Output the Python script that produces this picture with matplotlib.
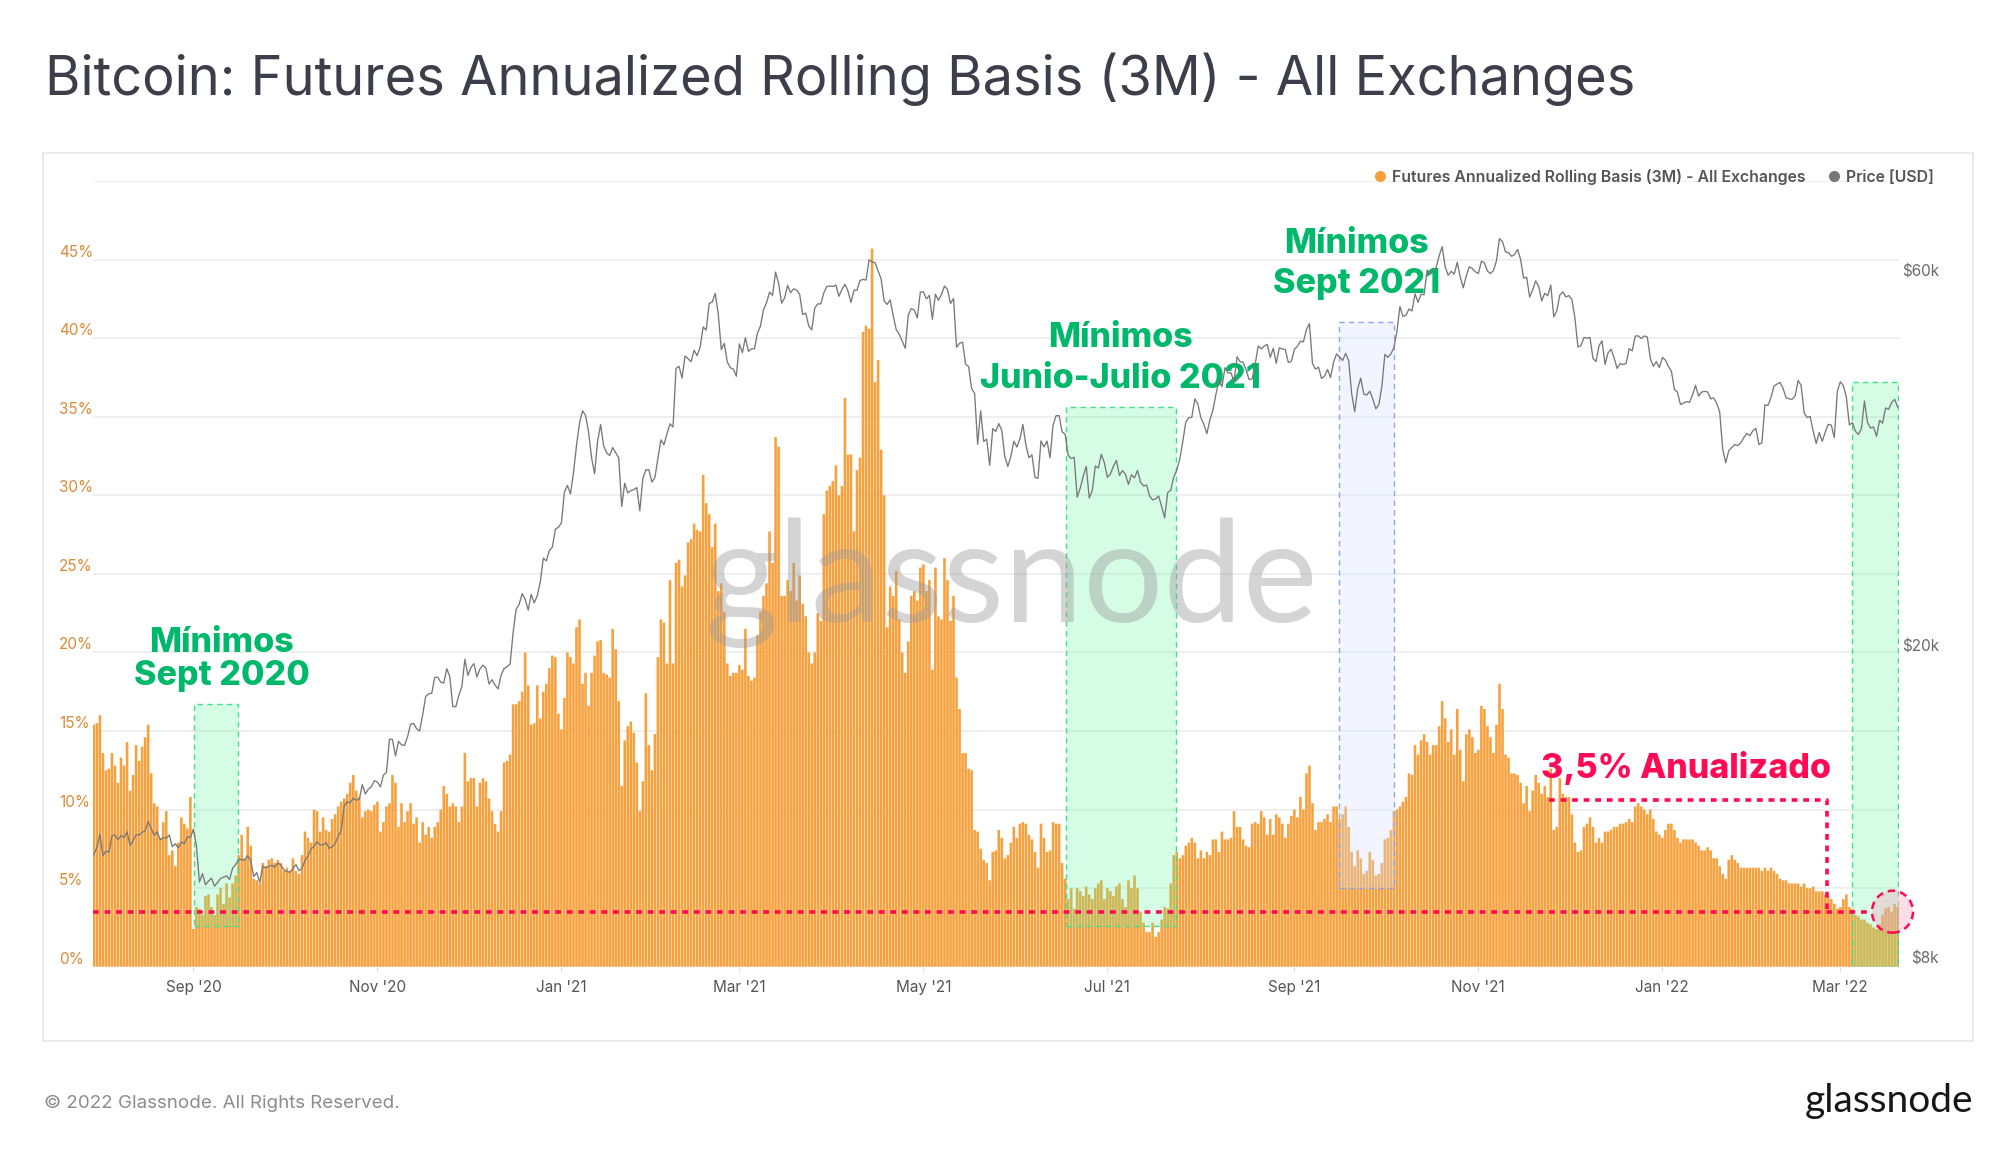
import matplotlib
matplotlib.use("Agg")
import matplotlib.pyplot as plt
import matplotlib.dates as mdates
from matplotlib.patches import Rectangle, Ellipse
from matplotlib.lines import Line2D
from matplotlib.ticker import NullLocator
import pandas as pd

plt.rcParams["font.family"] = ["Inter", "DejaVu Sans"]

# --- futures annualized rolling basis (3M), % per day ---
basis_2020_07 = [15.4, 15.5]
basis_2020_08 = [16.0, 13.6, 12.5, 12.6, 13.6, 12.8, 11.7, 13.3, 12.8, 14.3, 11.2, 12.2, 14.1, 13.1, 14.0, 14.6,
                 15.4, 12.3, 10.4, 10.2, 8.2, 9.2, 9.9, 7.1, 7.4, 6.4, 7.9, 9.5, 9.1, 8.8, 10.8]
basis_2020_09 = [2.4, 3.8, 3.7, 3.3, 4.5, 4.6, 3.8, 3.3, 4.6, 5.0, 4.0, 5.3, 4.4, 5.3, 5.8, 7.1, 8.4, 6.9, 8.9,
                 7.7, 5.6, 5.5, 5.3, 6.6, 6.4, 6.8, 6.9, 6.6, 6.8, 6.6]
basis_2020_10 = [6.1, 6.3, 6.1, 6.9, 6.1, 5.9, 7.1, 8.6, 8.2, 7.9, 10.0, 9.9, 8.6, 9.5, 8.7, 8.6, 9.4, 9.7, 10.2,
                 10.5, 10.7, 11.0, 11.7, 12.2, 11.2, 10.8, 9.5, 9.9, 10.0, 9.9, 10.3]
basis_2020_11 = [10.5, 8.6, 9.2, 10.2, 10.4, 12.2, 11.7, 8.9, 10.4, 9.2, 9.9, 10.4, 9.1, 9.5, 7.9, 9.2, 8.4, 8.9,
                 8.2, 8.9, 9.2, 10.0, 11.5, 11.0, 10.2, 10.4, 10.2, 9.2, 10.2, 13.6]
basis_2020_12 = [11.8, 12.0, 12.0, 10.2, 11.7, 12.0, 11.8, 10.7, 9.9, 9.1, 8.6, 9.9, 13.0, 13.1, 13.5, 16.7, 16.7,
                 16.9, 17.5, 20.0, 17.9, 15.4, 15.5, 17.9, 15.8, 17.5, 18.0, 19.0, 19.8, 19.7, 16.1]
basis_2021_01 = [15.1, 17.1, 20.0, 19.7, 19.3, 21.6, 22.1, 18.0, 18.7, 16.6, 18.7, 19.8, 20.7, 20.8, 18.7, 18.6,
                 18.4, 21.5, 20.2, 16.9, 11.5, 14.4, 15.3, 15.6, 14.9, 13.0, 9.9, 11.8, 17.4, 14.1, 12.5]
basis_2021_02 = [14.8, 19.7, 22.1, 21.9, 19.3, 24.6, 19.3, 25.7, 25.9, 24.2, 24.9, 27.0, 27.2, 28.2, 27.8, 27.7,
                 31.3, 29.5, 28.8, 26.7, 28.2, 23.9, 24.4, 22.6, 19.3, 18.5, 18.7, 18.7]
basis_2021_03 = [19.2, 18.9, 21.5, 18.5, 18.2, 18.4, 21.1, 22.6, 23.6, 24.4, 27.7, 25.7, 33.7, 33.1, 23.6, 23.6,
                 24.6, 23.9, 25.7, 23.3, 24.9, 23.1, 22.3, 20.0, 19.3, 20.0, 22.5, 22.0, 28.8, 30.3, 30.6]
basis_2021_04 = [30.9, 31.9, 30.0, 30.6, 36.2, 32.6, 32.6, 27.7, 31.6, 32.4, 40.4, 40.8, 40.6, 45.7, 37.2, 38.6,
                 32.9, 30.0, 21.6, 24.2, 23.6, 25.2, 22.1, 20.0, 18.7, 20.7, 23.6, 23.9, 23.3, 25.4]
basis_2021_05 = [25.6, 23.9, 24.6, 18.9, 25.4, 22.3, 22.1, 26.0, 24.6, 22.0, 23.6, 18.4, 16.4, 13.6, 13.6, 12.6,
                 12.5, 8.7, 8.6, 7.5, 6.8, 6.6, 5.5, 7.3, 7.4, 8.7, 8.2, 6.9, 7.1, 7.9, 8.9]
basis_2021_06 = [8.2, 9.1, 9.2, 9.1, 8.4, 8.1, 7.3, 6.3, 9.1, 8.2, 7.3, 7.4, 9.2, 9.1, 9.1, 6.6, 5.6, 4.3, 5.0,
                 3.7, 5.0, 4.8, 4.5, 5.1, 4.6, 4.3, 5.0, 5.3, 5.5, 4.3]
basis_2021_07 = [5.0, 4.8, 4.5, 5.1, 5.3, 4.3, 3.8, 5.5, 5.0, 5.8, 5.0, 3.5, 2.8, 2.2, 2.2, 2.8, 1.9, 2.2, 3.0,
                 3.8, 3.7, 5.3, 7.1, 7.3, 6.9, 7.1, 7.7, 7.9, 8.2, 7.9, 6.9]
basis_2021_08 = [7.4, 6.9, 7.3, 7.1, 8.1, 8.1, 7.3, 8.6, 8.1, 8.1, 8.2, 9.9, 8.9, 8.9, 8.1, 7.7, 7.6, 9.1, 9.2,
                 9.1, 9.9, 9.5, 8.4, 9.4, 8.4, 9.7, 9.5, 9.1, 8.2, 9.1, 9.6]
basis_2021_09 = [10.0, 9.5, 10.8, 10.0, 12.3, 12.8, 10.4, 8.7, 9.2, 9.2, 9.4, 9.7, 9.2, 10.2, 10.2, 9.4, 9.7,
                 10.2, 8.9, 7.3, 6.4, 7.4, 6.9, 5.9, 6.1, 7.3, 6.8, 5.8, 5.9, 6.6]
basis_2021_10 = [8.1, 8.2, 8.7, 9.9, 10.0, 10.2, 10.5, 10.8, 12.3, 12.2, 14.1, 13.5, 14.4, 14.8, 14.3, 13.5, 14.1,
                 14.1, 15.3, 16.9, 15.8, 14.3, 15.1, 13.5, 16.4, 13.8, 11.8, 14.8, 15.1, 14.6, 13.6]
basis_2021_11 = [13.8, 16.6, 16.4, 15.3, 14.6, 13.6, 15.4, 18.0, 16.4, 13.5, 13.3, 12.3, 12.3, 12.2, 11.7, 10.4,
                 11.5, 9.9, 11.2, 12.2, 11.7, 11.0, 11.5, 10.8, 12.6, 8.7, 8.9, 12.0, 11.0, 10.8]
basis_2021_12 = [10.8, 9.7, 7.9, 7.3, 7.4, 8.9, 9.1, 9.5, 8.9, 7.9, 8.2, 7.9, 8.6, 8.6, 8.7, 8.9, 8.9, 9.1, 9.1,
                 9.2, 9.4, 9.2, 10.2, 10.4, 10.2, 10.0, 9.7, 10.0, 9.4, 8.6, 8.4]
basis_2022_01 = [8.2, 8.7, 9.1, 9.1, 8.7, 8.2, 7.9, 8.1, 8.1, 8.1, 8.1, 7.9, 7.7, 7.4, 7.4, 7.6, 7.4, 6.9, 6.9,
                 6.4, 5.9, 5.6, 6.8, 7.1, 6.8, 6.6, 6.3, 6.3, 6.3, 6.3, 6.3]
basis_2022_02 = [6.3, 6.3, 6.1, 6.3, 6.1, 6.3, 6.1, 5.9, 5.6, 5.5, 5.5, 5.3, 5.3, 5.3, 5.3, 5.1, 5.3, 5.0, 5.0,
                 5.1, 4.8, 4.8, 4.8, 4.6, 4.5, 4.3, 4.0, 3.7]
basis_2022_03 = [3.8, 4.3, 4.6, 3.8, 3.7, 3.3, 3.2, 3.0, 3.0, 2.8, 2.7, 2.5, 2.4, 2.7, 3.3, 3.7, 3.8, 3.5, 4.0, 3.8]

# --- BTC price, thousand USD per day ---
price_2020_07 = [11.10, 11.35]
price_2020_08 = [11.80, 11.07, 11.23, 11.19, 11.74, 11.77, 11.60, 11.75, 11.68, 11.88, 11.41, 11.58, 11.78, 11.77,
                 11.86, 11.91, 12.25, 11.99, 11.76, 11.88, 11.60, 11.68, 11.66, 11.77, 11.37, 11.47, 11.33, 11.53,
                 11.47, 11.71, 11.68]
price_2020_09 = [11.97, 11.41, 10.25, 10.51, 10.17, 10.28, 10.37, 10.13, 10.24, 10.36, 10.40, 10.44, 10.33, 10.68,
                 10.79, 10.95, 10.95, 10.93, 11.08, 10.92, 10.42, 10.54, 10.24, 10.74, 10.69, 10.73, 10.77, 10.71,
                 10.84, 10.78]
price_2020_10 = [10.62, 10.57, 10.55, 10.67, 10.79, 10.60, 10.67, 10.92, 11.06, 11.30, 11.38, 11.54, 11.43, 11.43,
                 11.51, 11.32, 11.36, 11.48, 11.74, 11.92, 12.82, 12.97, 12.93, 13.11, 13.03, 13.07, 13.64, 13.27,
                 13.46, 13.56, 13.80]
price_2020_11 = [13.74, 13.55, 14.03, 14.13, 15.58, 15.57, 14.83, 15.48, 15.33, 15.30, 15.70, 16.28, 16.32, 16.07,
                 15.96, 16.73, 17.66, 17.80, 17.82, 18.68, 18.69, 18.42, 18.37, 19.16, 18.72, 17.15, 17.14, 17.72,
                 18.18, 19.70]
price_2020_12 = [18.79, 19.22, 19.45, 18.70, 19.15, 19.36, 19.17, 18.32, 18.55, 18.26, 18.06, 18.80, 19.17, 19.27,
                 19.43, 21.31, 22.81, 23.14, 23.87, 23.48, 22.75, 23.82, 23.24, 23.73, 24.71, 26.49, 26.28, 27.08,
                 27.36, 28.84, 29.00]
price_2021_01 = [29.37, 32.13, 32.78, 31.97, 33.99, 36.82, 39.37, 40.80, 40.25, 38.36, 35.57, 33.92, 37.32, 39.19,
                 36.83, 36.07, 35.79, 36.63, 36.07, 35.55, 30.83, 32.99, 32.07, 32.29, 32.37, 32.57, 30.43, 33.47,
                 34.32, 34.32, 33.11]
price_2021_02 = [33.54, 35.51, 37.47, 36.93, 38.14, 39.27, 38.90, 46.20, 46.48, 44.92, 47.91, 47.50, 47.11, 48.72,
                 47.94, 49.20, 52.15, 51.68, 55.89, 56.10, 57.54, 54.21, 48.82, 49.71, 47.06, 46.28, 46.11, 45.14]
price_2021_03 = [49.63, 48.38, 50.54, 48.56, 48.93, 48.91, 51.21, 52.30, 54.88, 55.96, 57.75, 57.23, 61.26, 59.30,
                 55.91, 56.80, 58.91, 57.67, 58.32, 58.11, 57.35, 54.08, 54.34, 52.30, 51.70, 55.14, 55.81, 55.81,
                 57.63, 58.73, 58.80]
price_2021_04 = [58.73, 58.96, 57.06, 58.20, 59.12, 57.96, 56.04, 58.08, 58.09, 59.77, 59.96, 59.83, 63.50, 63.11,
                 62.97, 61.45, 60.05, 56.27, 55.72, 56.47, 53.91, 51.76, 51.09, 50.05, 49.00, 54.02, 55.03, 54.82,
                 53.56, 57.75]
price_2021_05 = [57.83, 56.63, 57.20, 53.33, 57.42, 56.40, 57.36, 58.80, 58.23, 55.86, 56.70, 49.15, 49.72, 49.88,
                 46.76, 46.46, 43.54, 42.91, 36.98, 40.78, 37.30, 37.53, 34.77, 38.71, 38.40, 39.29, 38.53, 35.66,
                 34.66, 35.68, 37.33]
price_2021_06 = [36.68, 37.56, 39.19, 36.89, 35.55, 35.86, 33.56, 33.47, 37.35, 36.70, 37.33, 35.55, 39.10, 40.22,
                 40.22, 38.35, 38.09, 35.82, 35.48, 35.60, 31.68, 32.51, 33.68, 34.66, 31.59, 32.28, 34.70, 34.50,
                 35.91, 35.04]
price_2021_07 = [33.57, 33.90, 34.66, 35.28, 33.75, 34.24, 33.86, 32.88, 33.82, 33.52, 34.26, 33.09, 32.73, 32.82,
                 31.78, 31.42, 31.52, 31.78, 30.82, 29.81, 32.11, 32.31, 33.58, 34.29, 35.38, 37.27, 39.46, 39.99,
                 40.01, 42.24, 41.63]
price_2021_08 = [39.97, 39.20, 38.15, 39.75, 40.87, 42.82, 44.61, 43.79, 46.29, 45.59, 45.58, 44.43, 47.79, 47.10,
                 47.05, 45.99, 44.70, 44.80, 46.72, 49.34, 48.91, 49.32, 49.55, 47.71, 48.99, 46.89, 49.07, 48.90,
                 48.81, 46.99, 47.17]
price_2021_09 = [48.85, 49.28, 50.03, 49.94, 51.77, 52.66, 46.86, 46.08, 46.37, 44.85, 45.17, 46.06, 44.96, 47.09,
                 48.18, 47.78, 47.27, 48.28, 47.26, 42.88, 40.69, 43.56, 44.89, 42.84, 42.72, 43.21, 42.24, 41.03,
                 41.52, 43.79]
price_2021_10 = [48.12, 47.71, 48.20, 49.11, 51.51, 55.36, 53.81, 53.97, 54.97, 54.66, 57.48, 56.04, 57.40, 57.32,
                 61.59, 60.89, 61.55, 62.04, 64.26, 65.99, 62.21, 60.69, 61.39, 60.89, 63.04, 60.36, 58.48, 60.62,
                 62.23, 61.89, 61.32]
price_2021_11 = [61.00, 63.23, 62.94, 61.44, 61.00, 61.53, 63.33, 67.57, 66.97, 64.98, 64.86, 64.16, 64.47, 65.47,
                 63.56, 60.16, 60.37, 56.94, 58.12, 59.70, 58.73, 56.29, 57.57, 57.16, 58.96, 53.73, 54.72, 57.27,
                 57.81, 56.95]
price_2021_12 = [57.18, 56.51, 53.60, 49.20, 49.36, 50.58, 50.47, 50.58, 47.56, 47.13, 49.36, 50.09, 46.74, 48.35,
                 48.86, 47.65, 46.20, 46.85, 46.71, 46.88, 48.94, 48.63, 50.78, 50.82, 50.43, 50.80, 50.64, 47.59,
                 46.46, 47.12, 46.31]
price_2022_01 = [47.69, 47.34, 46.46, 45.81, 43.43, 43.08, 41.55, 41.73, 41.91, 41.82, 42.74, 43.95, 42.59, 43.10,
                 43.18, 43.11, 42.25, 42.37, 41.74, 40.68, 36.46, 35.03, 36.28, 36.65, 36.95, 36.84, 37.13, 37.71,
                 38.17, 37.92, 38.48]
price_2022_02 = [38.74, 36.95, 37.15, 41.50, 41.44, 42.41, 43.84, 44.12, 44.34, 43.57, 42.41, 42.24, 42.20, 42.59,
                 44.58, 43.96, 40.55, 40.00, 40.13, 38.43, 37.07, 38.29, 37.30, 38.33, 39.21, 39.12, 37.70, 43.19]
price_2022_03 = [44.42, 43.92, 42.45, 39.14, 39.40, 38.42, 38.06, 38.74, 41.98, 39.44, 38.79, 38.90, 37.85, 39.67,
                 39.34, 41.14, 40.95, 41.80, 42.19, 41.25]

month_starts = ["2020-07-30", "2020-08-01", "2020-09-01", "2020-10-01", "2020-11-01", "2020-12-01",
                "2021-01-01", "2021-02-01", "2021-03-01", "2021-04-01", "2021-05-01", "2021-06-01",
                "2021-07-01", "2021-08-01", "2021-09-01", "2021-10-01", "2021-11-01", "2021-12-01",
                "2022-01-01", "2022-02-01", "2022-03-01"]

basis_months = [basis_2020_07, basis_2020_08, basis_2020_09, basis_2020_10, basis_2020_11, basis_2020_12,
                basis_2021_01, basis_2021_02, basis_2021_03, basis_2021_04, basis_2021_05, basis_2021_06,
                basis_2021_07, basis_2021_08, basis_2021_09, basis_2021_10, basis_2021_11, basis_2021_12,
                basis_2022_01, basis_2022_02, basis_2022_03]
price_months = [price_2020_07, price_2020_08, price_2020_09, price_2020_10, price_2020_11, price_2020_12,
                price_2021_01, price_2021_02, price_2021_03, price_2021_04, price_2021_05, price_2021_06,
                price_2021_07, price_2021_08, price_2021_09, price_2021_10, price_2021_11, price_2021_12,
                price_2022_01, price_2022_02, price_2022_03]

# highlighted windows: start, end, bottom %, top %
green_boxes = [("2020-09-01 05:00", "2020-09-15 19:00", 2.6, 16.7),
               ("2021-06-17 05:00", "2021-07-23 17:00", 2.6, 35.6),
               ("2022-03-04 19:00", "2022-03-20 02:00", 0.0, 37.2)]
blue_box = ("2021-09-15 19:00", "2021-10-04 00:00", 5.0, 41.0)

green_labels = [("2020-09-10 10:00", 20.0, 17.9, "Mínimos", "Sept 2020"),
                ("2021-07-05 07:00", 39.45, 36.8, "Mínimos", "Junio-Julio 2021"),
                ("2021-09-21 14:00", 45.4, 42.85, "Mínimos", "Sept 2021")]

level = 3.5
level_end = "2022-03-11 07:00"
bracket_x = ["2021-11-24 12:00", "2022-02-24 17:00"]
bracket_top = 10.6

pct_ticks = list(range(0, 55, 5))
price_ticks = [8000, 20000, 60000]
price_tick_labels = [r"\$8k", r"\$20k", r"\$60k"]

ORANGE = "#f6a13e"
GREY_LINE = "#787878"
GREEN_TXT = "#00b86b"
RED = "#ff0a55"


def build_series(chunks):
    parts = []
    for start, vals in zip(month_starts, chunks):
        idx = pd.date_range(start, periods=len(vals), freq="D")
        parts.append(pd.Series(vals, index=idx))
    return pd.concat(parts)


basis = build_series(basis_months)
price = build_series(price_months) * 1000
d = lambda s: mdates.date2num(pd.Timestamp(s))

W, H = 2000, 1153
fig = plt.figure(figsize=(W / 100, H / 100), dpi=100)
fig.patch.set_facecolor("white")

# outer chart frame
fig.add_artist(Rectangle((43 / W, 1 - 1041 / H), 1930 / W, 888 / H, transform=fig.transFigure,
                         fill=False, edgecolor="#e4e4e4", lw=1.1))

ax = fig.add_axes([92.5 / W, 1 - 966.7 / H, 1806.5 / W, 785.7 / H])
ax2 = ax.twinx()

bars = ax.bar(basis.index, basis.values, width=0.86, color=ORANGE, lw=0, zorder=2)
for b in bars:
    b.set_snap(False)
ax2.plot(price.index, price.values, color=GREY_LINE, lw=0.95, zorder=3)

ax.set_xlim(d("2020-07-30") - 0.45, d("2022-03-20") + 0.45)
ax.set_ylim(0, 50)
ax2.set_yscale("log")
ax2.set_ylim(8000, 80000)

# left axis
ax.set_axisbelow(True)
ax.set_yticks(pct_ticks, labels=[f"{v}%" for v in pct_ticks[:-1]] + [""])
ax.yaxis.grid(True, color="#eeeeee", lw=1.3)
ax.tick_params(axis="y", length=0, pad=24.1, labelsize=11, labelcolor="#dc8a38")
for lab in ax.get_yticklabels():
    lab.set_horizontalalignment("left")
    lab.set_verticalalignment("bottom")

# right axis
ax2.set_yticks(price_ticks, labels=price_tick_labels)
ax2.yaxis.set_minor_locator(NullLocator())
ax2.tick_params(axis="y", length=0, pad=28.8, labelsize=11, labelcolor="#6a6a6a")
for lab in ax2.get_yticklabels():
    lab.set_horizontalalignment("right")
    lab.set_verticalalignment("bottom")

# x axis
ax.xaxis.set_major_locator(mdates.MonthLocator(bymonth=[1, 3, 5, 7, 9, 11]))
ax.xaxis.set_major_formatter(mdates.DateFormatter("%b '%y"))
ax.tick_params(axis="x", length=3.6, width=0.8, color="#dedede", pad=6, labelsize=11, labelcolor="#555555")

for a in (ax, ax2):
    for sp in a.spines.values():
        sp.set_visible(False)

# highlighted windows
for start, end, lo, hi in green_boxes:
    ax.add_patch(Rectangle((d(start), lo), d(end) - d(start), hi - lo, facecolor=(0.35, 0.96, 0.6, 0.25),
                           edgecolor="#45df8c", lw=1.0, ls=(0, (4, 3)), zorder=4))
start, end, lo, hi = blue_box
ax.add_patch(Rectangle((d(start), lo), d(end) - d(start), hi - lo, facecolor=(0.83, 0.88, 1.0, 0.3),
                       edgecolor="#8ea5f0", lw=1.0, ls=(0, (4, 3)), zorder=4))

# 3.5% reference line and bracket
ax.plot([ax.get_xlim()[0], d(level_end)], [level, level], color=RED, lw=2.6, ls=(0, (1.6, 1.6)), zorder=5)
ax.plot([d(bracket_x[0]), d(bracket_x[1]), d(bracket_x[1])], [bracket_top, bracket_top, level],
        color=RED, lw=2.6, ls=(0, (1.6, 1.6)), zorder=5)
ax.add_patch(Ellipse((d("2022-03-18 07:00"), level), 13.6, 2.67, facecolor=(1.0, 0.62, 0.75, 0.35),
                     edgecolor=RED, lw=1.8, ls=(0, (3, 2)), zorder=6, clip_on=False))

for x, y1, y2, t1, t2 in green_labels:
    ax.text(d(x), y1, t1, ha="center", va="baseline", fontsize=24.5, fontweight="heavy", color=GREEN_TXT,
            zorder=7)
    ax.text(d(x), y2, t2, ha="center", va="baseline", fontsize=24.5, fontweight="heavy", color=GREEN_TXT,
            zorder=7)
ax.text(d("2022-01-08 21:00"), 12.0, "3,5% Anualizado", ha="center", va="baseline", fontsize=24.5,
        fontweight="heavy", color=RED, zorder=7)

# legend
handles = [Line2D([], [], marker="o", ls="", color=ORANGE, markersize=7),
           Line2D([], [], marker="o", ls="", color="#777777", markersize=7)]
fig.legend(handles, ["Futures Annualized Rolling Basis (3M) - All Exchanges", "Price [USD]"],
           loc="center right", bbox_to_anchor=(1942 / W, 1 - 176.7 / H), ncol=2, frameon=False,
           handlelength=0.8, handletextpad=0.35, columnspacing=1.4, borderpad=0,
           labelcolor="#555555", prop={"weight": "semibold", "size": 11.4})

# texts
fig.text(45 / W, 1 - 95 / H, "Bitcoin: Futures Annualized Rolling Basis (3M) - All Exchanges",
         fontsize=39, color="#3c3f49", ha="left", va="baseline")
fig.text(44 / W, 1 - 1108 / H, "© 2022 Glassnode. All Rights Reserved.", fontsize=13.5, color="#8c8c8c",
         ha="left", va="baseline")
fig.text(1973 / W, 1 - 1112 / H, "glassnode", family=["Lato", "DejaVu Sans"], fontsize=28, color="#161616",
         ha="right", va="baseline")
fig.text(1011 / W, 1 - 622 / H, "glassnode", family=["Lato", "DejaVu Sans"], fontsize=102, color="#9a9a9a",
         alpha=0.42, ha="center", va="baseline", zorder=5)

fig.savefig("out.png", dpi=100)
